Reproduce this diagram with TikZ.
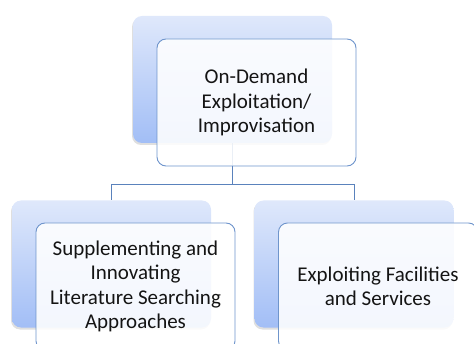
\documentclass[tikz,border=0pt]{standalone}
\usepackage{fontspec}
\setmainfont{Carlito}
\usepackage{xcolor}
\usepackage{tikz}
\usetikzlibrary{positioning,calc,shadows}
\definecolor{edge}{HTML}{6F95CC}
\definecolor{wire}{HTML}{5A82BC}
\definecolor{softtop}{HTML}{DFE8FB}
\definecolor{softbot}{HTML}{A2BEF6}
\definecolor{ink}{HTML}{141414}
\tikzset{
  backbox/.style  = {rectangle, rounded corners=9pt, draw=none, top color=softtop,
                     bottom color=softbot, minimum width=199pt, minimum height=127pt,
                     drop shadow={shadow xshift=-1pt, shadow yshift=-2pt, opacity=0.25}},
  frontbox/.style = {rectangle, rounded corners=9pt, draw=edge, line width=0.9pt,
                     fill=white, fill opacity=0.88, text opacity=1, text=ink,
                     align=center, minimum width=199pt, minimum height=127pt,
                     font=\fontsize{21}{24.5}\selectfont},
  link/.style     = {draw=wire, line width=1pt},
}

\begin{document}
\begin{tikzpicture}[x=1pt,y=1pt]
  \clip (0,0) rectangle (474,343);
  \useasboundingbox (0,0) rectangle (474,343);
  % back cards
  \node[backbox] (topback) at (232.5,263.5) {};
  \node[backbox] (leftback) at (111.5,79) {};
  \node[backbox] (rightback) at (354,79) {};

  % tree lines
  \coordinate (fork) at ([yshift=-41pt]topback.south);
  \draw[link] (topback.south) -- (fork) -| (leftback.north);
  \draw[link] (fork) -| (rightback.north);

  % front cards
  \node[frontbox] (top) at ([xshift=24pt,yshift=-23pt]topback.center)
    {On-Demand\\Exploitation/\\Improvisation};
  \node[frontbox] (left) at ([xshift=24pt,yshift=-22.5pt]leftback.center)
    {Supplementing and\\Innovating\\Literature Searching\\Approaches};
  \node[frontbox] (right) at ([xshift=24pt,yshift=-22.5pt]rightback.center)
    {Exploiting Facilities\\and Services};
\end{tikzpicture}
\end{document}
